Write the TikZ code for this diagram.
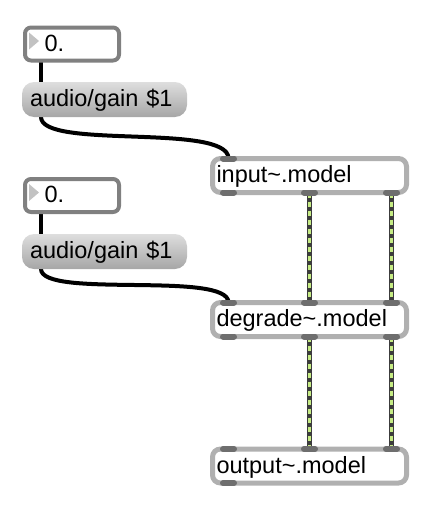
\documentclass[tikz,border=0pt]{standalone}
\usepackage{fontspec}
\setmainfont{Liberation Sans}
\usetikzlibrary{calc,backgrounds}
\definecolor{numedge}{HTML}{808080}
\definecolor{objedge}{HTML}{B0B0B0}
\definecolor{tabgray}{HTML}{6E6E6E}
\definecolor{msgtop}{HTML}{DEDEDE}
\definecolor{msgbot}{HTML}{A6A6A6}
\definecolor{sigdark}{HTML}{3C3C3C}
\definecolor{siggreen}{HTML}{C6EC84}
\definecolor{arrowgray}{HTML}{C2C2C2}
\begin{document}
\begin{tikzpicture}[x=1pt,y=-1pt,
  every node/.style={font=\fontsize{23.5}{28}\selectfont, text height=18pt, text depth=4pt, inner sep=0pt, outer sep=0pt},
  numbox/.style={draw=numedge, line width=4pt, rounded corners=6pt, fill=white, minimum width=94pt, minimum height=33pt, text width=55pt, align=left},
  msgbox/.style={rounded corners=12pt, top color=msgtop, bottom color=msgbot, minimum width=165pt, minimum height=35pt, text width=149pt, align=left},
  objbox/.style={draw=objedge, line width=5pt, rounded corners=8pt, fill=white, minimum width=194pt, minimum height=34pt, text width=186pt, align=left},
  ctrl/.style={line width=4pt, line cap=round},
  sig/.style={draw=sigdark, line width=5pt, postaction={draw=siggreen, line width=2.5pt, dash pattern=on 5pt off 4pt}},
  tab/.style={draw=tabgray, line width=6pt, line cap=round}]
\useasboundingbox (0,0) rectangle (430,522);
%
\node[numbox] (num1) at (72,44) {0.};
\node[msgbox] (gain1) at (104.5,99.5) {audio/gain \$1};
\node[numbox] (num2) at (72,195.5) {0.};
\node[msgbox] (gain2) at (104.5,251.5) {audio/gain \$1};
%
\node[objbox] (input) at (309.5,175.5) {input\textasciitilde.model};
\node[objbox] (degrade) at (309.5,319.5) {degrade\textasciitilde.model};
\node[objbox] (output) at (309.5,466) {output\textasciitilde.model};
%
\foreach \n in {num1,num2}
  \fill[arrowgray] ([shift={(4,-11.5)}]\n.west) -- ([shift={(4,5.5)}]\n.west) -- ([shift={(14,-3)}]\n.west) -- cycle;
%
\begin{scope}[on background layer]
\draw[ctrl] ([xshift=16pt]num1.south west) -- ([xshift=19pt]gain1.north west);
\draw[ctrl] ([xshift=19pt]gain1.south west) .. controls +(0,33) and +(0,-36) .. ([xshift=16pt]input.north west);
\draw[ctrl] ([xshift=16pt]num2.south west) -- ([xshift=19pt]gain2.north west);
\draw[ctrl] ([xshift=19pt]gain2.south west) .. controls +(0,30) and +(0,-32) .. ([xshift=16pt]degrade.north west);
%
\draw[sig] (input.south) -- (degrade.north);
\draw[sig] ([xshift=-15pt]input.south east) -- ([xshift=-15pt]degrade.north east);
\draw[sig] (degrade.south) -- (output.north);
\draw[sig] ([xshift=-15pt]degrade.south east) -- ([xshift=-15pt]output.north east);
\end{scope}
%
% inlets and outlets
\foreach \p in {input.north west, input.south west, degrade.north west, degrade.south west, output.north west, output.south west}
  \draw[tab] ([xshift=10.5pt]\p) -- ([xshift=21.5pt]\p);
\foreach \p in {input.south, degrade.north, degrade.south, output.north}
  \draw[tab] ([xshift=-5.5pt]\p) -- ([xshift=5.5pt]\p);
\foreach \p in {input.south east, degrade.north east, degrade.south east, output.north east}
  \draw[tab] ([xshift=-20.5pt]\p) -- ([xshift=-9.5pt]\p);
%
\end{tikzpicture}
\end{document}
